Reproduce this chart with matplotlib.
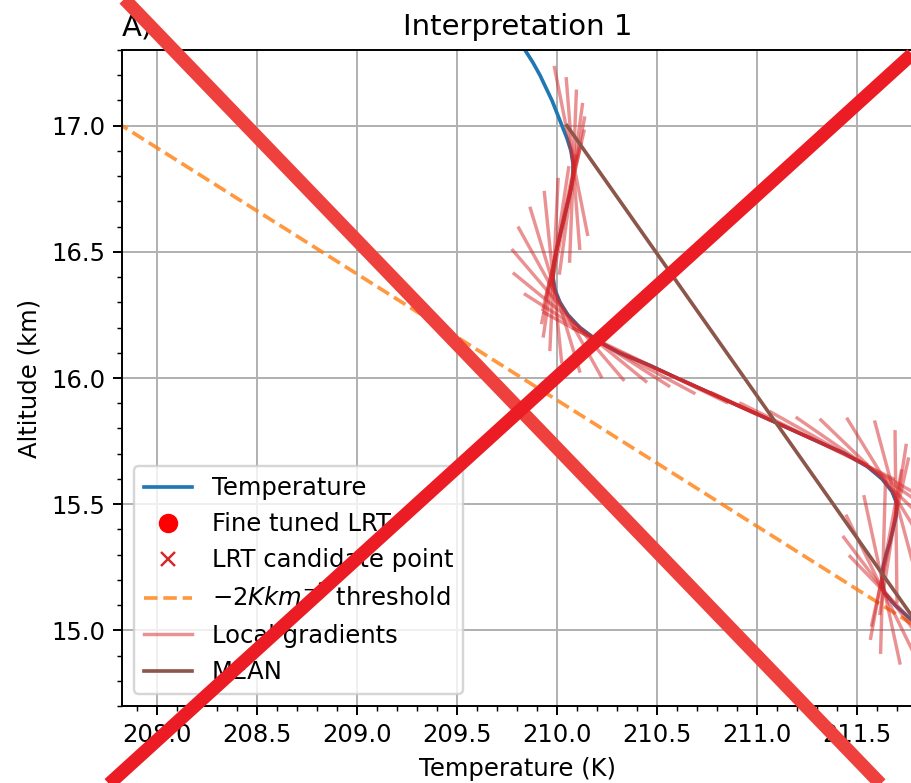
import matplotlib
matplotlib.use('Agg')
import matplotlib.pyplot as plt
from matplotlib.lines import Line2D
import numpy as np

# temperature profile (altitude km, temperature K)
alt_km = [17.30, 17.25, 17.20, 17.15, 17.10, 17.05, 17.00, 16.95, 16.90, 16.85,
          16.80, 16.75, 16.70, 16.65, 16.60, 16.55, 16.50, 16.45, 16.40, 16.35,
          16.30, 16.25, 16.20, 16.15, 16.10, 16.05, 16.00, 15.95, 15.90, 15.85,
          15.80, 15.75, 15.70, 15.65, 15.60, 15.55, 15.50, 15.45, 15.40, 15.35,
          15.30, 15.25, 15.20, 15.15, 15.10, 15.05, 15.00, 14.95, 14.90, 14.85,
          14.80, 14.75, 14.70]
temp_K = [209.84, 209.88, 209.915, 209.945, 209.975, 210.00, 210.025, 210.05, 210.07, 210.08,
          210.08, 210.07, 210.055, 210.04, 210.025, 210.01, 209.995, 209.985, 209.98, 209.99,
          210.015, 210.055, 210.115, 210.20, 210.31, 210.465, 210.60, 210.74, 210.88, 211.02,
          211.16, 211.30, 211.44, 211.55, 211.625, 211.675, 211.70, 211.695, 211.68, 211.665,
          211.645, 211.63, 211.625, 211.635, 211.69, 211.76, 211.825, 211.90, 211.97, 212.04,
          212.11, 212.18, 212.25]

# tropopause points (just outside the visible window)
lrt_T = [211.825]
lrt_z = [15.0]
cand_T = [211.825]
cand_z = [15.0]

# -2 K/km threshold and mean gradient over the 2 km layer
thr_T = [211.825, 207.825]
thr_z = [15.0, 17.0]
mean_T = [211.825, 210.05]
mean_z = [15.0, 17.0]

# altitudes where local gradients were drawn
grad_lo, grad_hi = 15.05, 16.90

plt.rcParams['font.size'] = 10
fig = plt.figure(figsize=(911 / 175, 783 / 175), dpi=175)
ax = fig.add_axes([0.1339, 0.0983, 0.8694, 0.8378])

xlim = (207.825, 211.785)
ylim = (14.7, 17.3)
ax.set_xlim(*xlim)
ax.set_ylim(*ylim)

alt = np.array(alt_km)
temp = np.array(temp_K)

h_temp, = ax.plot(temp, alt, color='C0', lw=1.5, label='Temperature', zorder=2)
h_lrt, = ax.plot(lrt_T, lrt_z, 'o', color='red', ms=7, label='Fine tuned LRT')
h_cand, = ax.plot(cand_T, cand_z, 'x', color='C3', ms=6, label='LRT candidate point')
h_thr, = ax.plot(thr_T, thr_z, '--', color='C1', alpha=0.8, lw=1.5,
                 label=r'$-2 K km^{-1}$ threshold')

# pixel scale, so every gradient segment has the same length on screen
kx = fig.get_figwidth() * fig.dpi * 0.8694 / (xlim[1] - xlim[0])
kz = fig.get_figheight() * fig.dpi * 0.8378 / (ylim[1] - ylim[0])
half = 85 / kz

h_grad = None
for i in range(3, len(alt) - 3):
    if not (grad_lo - 1e-6 <= alt[i] <= grad_hi + 1e-6):
        continue
    g = np.polyfit(alt[i - 3:i + 4], temp[i - 3:i + 4], 1)[0]
    dz = half / np.hypot(g * kx / kz, 1)
    ln, = ax.plot([temp[i] - g * dz, temp[i] + g * dz], [alt[i] - dz, alt[i] + dz],
                  color='C3', alpha=0.5, lw=1.4, zorder=3)
    if h_grad is None:
        h_grad = ln
        ln.set_label('Local gradients')

h_mean, = ax.plot(mean_T, mean_z, color='C5', lw=1.5, label='MEAN', zorder=3)

ax.minorticks_on()
ax.grid(True, which='major')
ax.set_xlabel('Temperature (K)')
ax.set_ylabel('Altitude (km)')
ax.set_title('Interpretation 1')
ax.set_title('A)', loc='left')
ax.legend(handles=[h_temp, h_lrt, h_cand, h_thr, h_grad, h_mean], loc='lower left')

# big red cross over the figure
fig.add_artist(Line2D([0.1164, 0.9868], [1.0255, -0.0255], color='#ee403c', lw=5.5,
                      transform=fig.transFigure, solid_capstyle='butt'))
fig.add_artist(Line2D([1.0906, 0.0968], [1.0255, -0.0255], color='#ec1c24', lw=5.5,
                      transform=fig.transFigure, solid_capstyle='butt'))

fig.savefig('out.png', dpi=175)
